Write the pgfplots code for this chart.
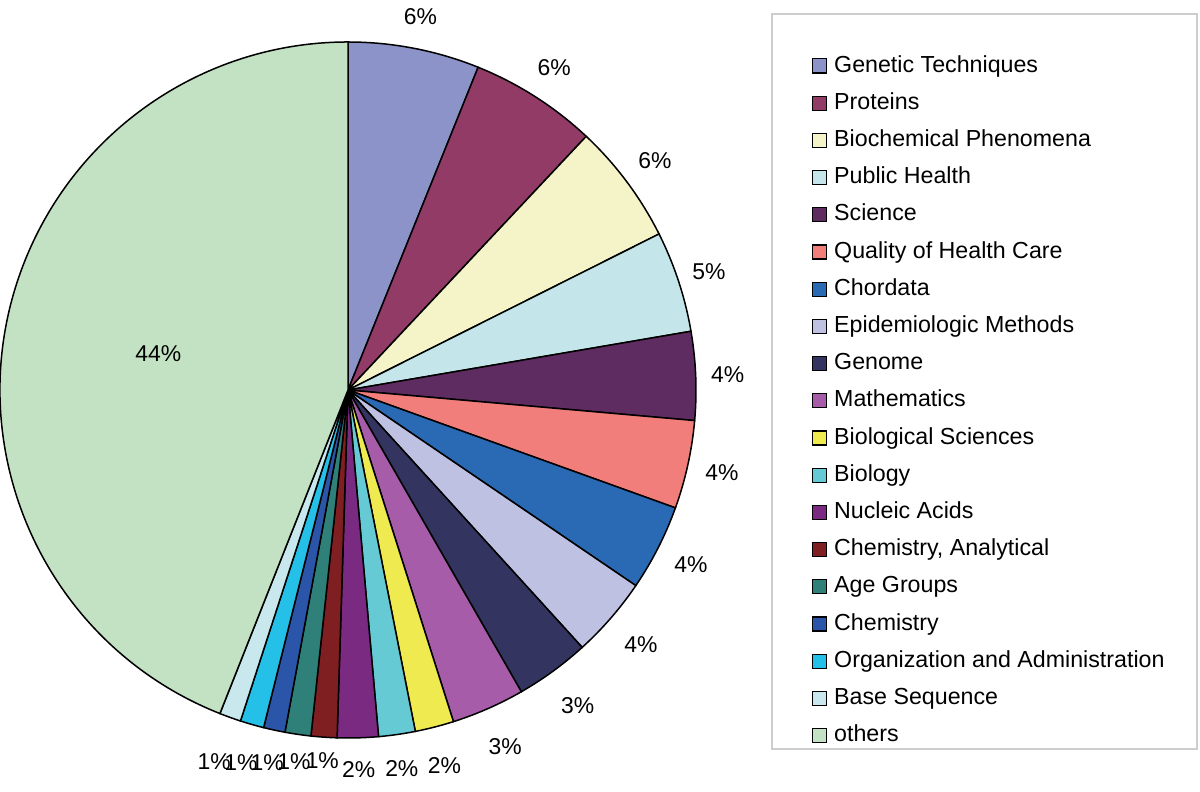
\documentclass[border=0pt]{standalone}
\usepackage{pgfplots}
\usepackage{pgfplotstable}
\pgfplotsset{compat=1.18}
\usepackage{fontspec}
\setmainfont{Liberation Sans}

\definecolor{c0}{RGB}{139,147,200}
\definecolor{c1}{RGB}{147,59,103}
\definecolor{c2}{RGB}{245,243,200}
\definecolor{c3}{RGB}{196,230,234}
\definecolor{c4}{RGB}{94,44,96}
\definecolor{c5}{RGB}{242,126,124}
\definecolor{c6}{RGB}{42,106,181}
\definecolor{c7}{RGB}{191,193,227}
\definecolor{c8}{RGB}{51,53,96}
\definecolor{c9}{RGB}{166,92,168}
\definecolor{c10}{RGB}{238,234,80}
\definecolor{c11}{RGB}{102,202,212}
\definecolor{c12}{RGB}{123,42,130}
\definecolor{c13}{RGB}{127,31,34}
\definecolor{c14}{RGB}{46,128,121}
\definecolor{c15}{RGB}{43,85,168}
\definecolor{c16}{RGB}{37,192,232}
\definecolor{c17}{RGB}{200,232,238}
\definecolor{c18}{RGB}{195,226,195}
\definecolor{framegray}{RGB}{205,205,205}

\newcommand\lbl{\fontsize{11.5}{13}\selectfont}
\newcommand\leg{\fontsize{11.65}{13}\selectfont}

% share of each heading, in percent; lr = label distance from centre (px)
\pgfplotstableread[col sep=semicolon,row sep=\\]{
name;value;lr\\
Genetic Techniques;6.1;380\\
Proteins;5.9;383\\
Biochemical Phenomena;5.6;383\\
Public Health;4.7;380\\
Science;4.1;380\\
Quality of Health Care;4.1;383\\
Chordata;4.0;385\\
Epidemiologic Methods;3.75;388\\
Genome;3.45;390\\
Mathematics;3.4;390\\
Biological Sciences;1.8;388\\
Biology;1.7;382\\
Nucleic Acids;1.9;380\\
{Chemistry, Analytical};1.2;372\\
Age Groups;1.2;376\\
Chemistry;1.0;381\\
Organization and Administration;1.1;388\\
Base Sequence;1.0;395\\
others;44.0;193\\
}\pietable

\begin{document}
\begin{tikzpicture}
\pgfplotstablegetrowsof{\pietable}
\pgfmathtruncatemacro\nrows{\pgfplotsretval-1}
\begin{axis}[
  name=ax,
  x=0.5bp, y=0.5bp,
  xmin=0, xmax=1200, ymin=0, ymax=791,
  hide axis, clip=false,
  legend cell align=left,
  legend image code/.code={\filldraw[#1, line width=0.6bp] (0bp,-3.5bp) rectangle (7bp,3.5bp);},
  legend style={at={(axis cs:812,736)}, anchor=north west, draw=none, fill=none,
    inner sep=0pt, outer sep=0pt, font=\leg, row sep=7.7bp, column sep=0pt,
    nodes={inner sep=0pt, text height=8.5bp, text depth=2.4bp},
    /tikz/every odd column/.append style={column sep=3.5bp}},
]
\draw[framegray, line width=0.6bp] (axis cs:772,777) rectangle (axis cs:1197,42);
\def\cum{0}
\pgfplotsforeachungrouped \i in {0,...,\nrows}{
  \pgfplotstablegetelem{\i}{value}\of\pietable \let\v\pgfplotsretval
  \pgfplotstablegetelem{\i}{name}\of\pietable \let\nm\pgfplotsretval
  \pgfplotstablegetelem{\i}{lr}\of\pietable \let\lr\pgfplotsretval
  \pgfmathsetmacro\sa{90-3.6*\cum}
  \pgfmathsetmacro\ea{90-3.6*(\cum+\v)}
  \pgfmathsetmacro\ma{(\sa+\ea)/2}
  \pgfmathsetmacro\sx{348+348*cos(\sa)}
  \pgfmathsetmacro\sy{401+348*sin(\sa)}
  \pgfmathsetmacro\lx{348+\lr*cos(\ma)}
  \pgfmathsetmacro\ly{401+\lr*sin(\ma)}
  \pgfmathtruncatemacro\pct{round(\v)}
  \edef\temp{%
    \noexpand\filldraw[fill=c\i, draw=black, line width=0.75bp]
      (axis cs:348,401) -- (axis cs:\sx,\sy)
      arc[start angle=\sa, end angle=\ea, radius=174bp] -- cycle;
    \noexpand\node[font=\noexpand\lbl] at (axis cs:\lx,\ly) {\pct\noexpand\%};
    \noexpand\addlegendimage{fill=c\i, draw=black}
    \noexpand\addlegendentry{\nm}}
  \temp
  \pgfmathsetmacro\cum{\cum+\v}
}
\end{axis}
\pgfresetboundingbox
\path (ax.south west) rectangle (ax.north east);
\end{tikzpicture}
\end{document}
